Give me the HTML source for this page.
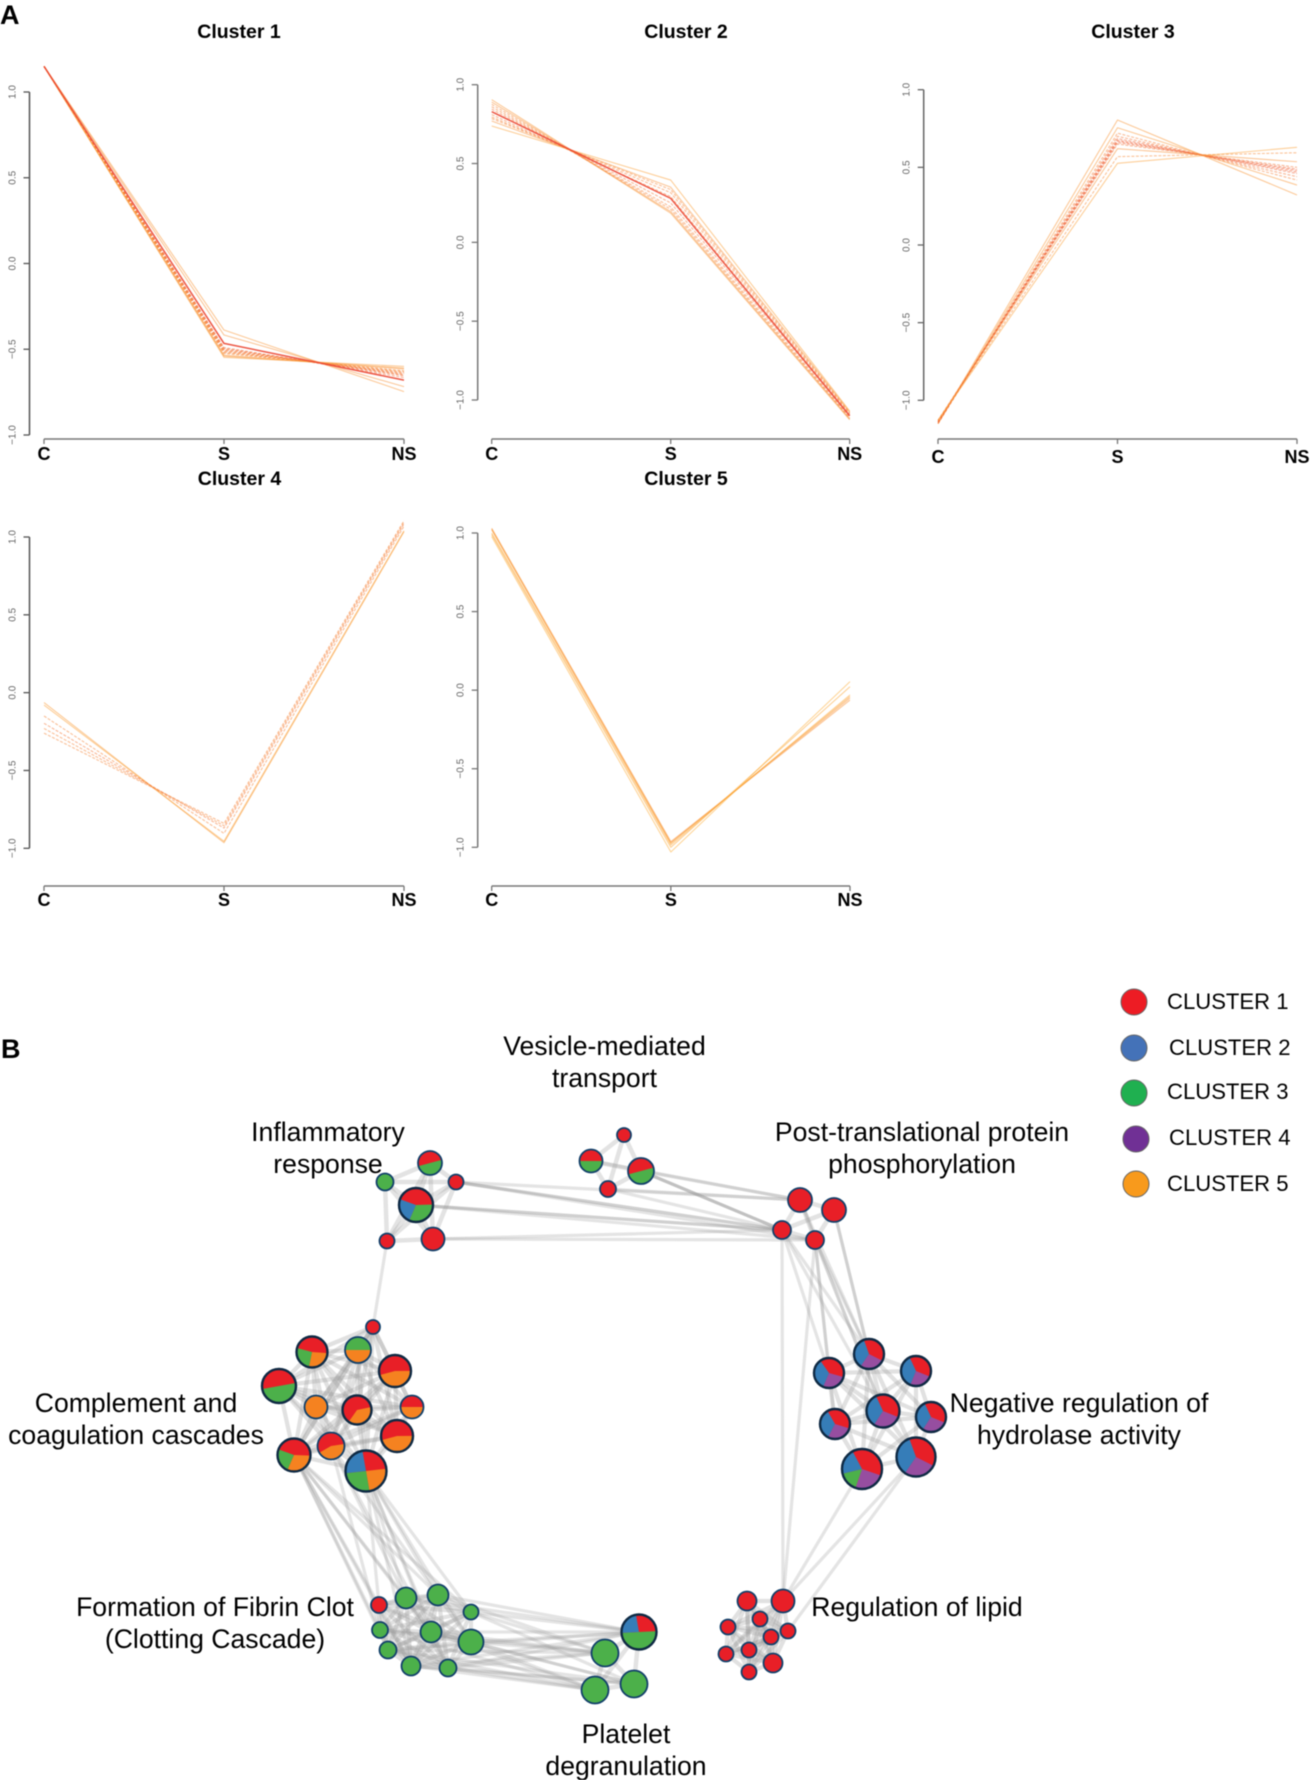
<!DOCTYPE html>
<html lang="en">
<head>
<meta charset="utf-8">
<title>Cluster profiles and enrichment network</title>
<style>
html,body{margin:0;padding:0;background:#fff;}
body{width:1311px;height:1780px;overflow:hidden;}
svg{display:block;filter:blur(0.5px);}
text{font-family:"Liberation Sans",sans-serif;}
.panel-letter{font-size:27px;font-weight:700;fill:#000;}
.chart-title{font-size:19.5px;font-weight:700;fill:#000;text-anchor:middle;}
.net-label{font-size:26.6px;fill:#000;text-anchor:middle;}
.legend-label{font-size:22.1px;fill:#000;}
</style>
</head>
<body>
<svg id="figure" xmlns="http://www.w3.org/2000/svg" width="1311" height="1780" viewBox="0 0 1311 1780">
  <rect width="1311" height="1780" fill="#fff"/>
  <text class="panel-letter" x="0" y="24">A</text>
  <text class="panel-letter" x="1" y="1058">B</text>

  <text class="chart-title" x="239" y="38">Cluster 1</text>
  <text class="chart-title" x="686" y="38">Cluster 2</text>
  <text class="chart-title" x="1133" y="38">Cluster 3</text>
  <text class="chart-title" x="239.5" y="485">Cluster 4</text>
  <text class="chart-title" x="686" y="485">Cluster 5</text>

  <g id="charts"></g>
  <g id="network-edges"></g>
  <g id="network-nodes"></g>

  <text class="net-label"><tspan x="604.5" y="1055">Vesicle-mediated</tspan><tspan x="604.5" y="1087">transport</tspan></text>
  <text class="net-label"><tspan x="328" y="1141">Inflammatory</tspan><tspan x="328" y="1173">response</tspan></text>
  <text class="net-label"><tspan x="922" y="1141">Post-translational protein</tspan><tspan x="922" y="1173">phosphorylation</tspan></text>
  <text class="net-label"><tspan x="136" y="1412">Complement and</tspan><tspan x="136" y="1444">coagulation cascades</tspan></text>
  <text class="net-label"><tspan x="1079" y="1412">Negative regulation of</tspan><tspan x="1079" y="1444">hydrolase activity</tspan></text>
  <text class="net-label"><tspan x="215" y="1616">Formation of Fibrin Clot</tspan><tspan x="215" y="1648">(Clotting Cascade)</tspan></text>
  <text class="net-label" x="917" y="1616">Regulation of lipid</text>
  <text class="net-label"><tspan x="626" y="1743">Platelet</tspan><tspan x="626" y="1775">degranulation</tspan></text>

  <g stroke="#666" stroke-width="1">
    <circle cx="1134" cy="1002" r="13" fill="#ed1c24"/>
    <circle cx="1134" cy="1048" r="13" fill="#4472b8"/>
    <circle cx="1134" cy="1093" r="13" fill="#1fb050"/>
    <circle cx="1136" cy="1139" r="13" fill="#703095"/>
    <circle cx="1136" cy="1184" r="13" fill="#f89a1c"/>
    <g stroke="none">
      <text class="legend-label" x="1167" y="1009">CLUSTER 1</text>
      <text class="legend-label" x="1169" y="1055">CLUSTER 2</text>
      <text class="legend-label" x="1167" y="1099">CLUSTER 3</text>
      <text class="legend-label" x="1169" y="1145">CLUSTER 4</text>
      <text class="legend-label" x="1167" y="1191">CLUSTER 5</text>
    </g>
  </g>
</svg>

<script>
var categories = ['C', 'S', 'NS'];
var yTicks = [-1, -0.5, 0, 0.5, 1];
var yTickLabels = ['\u22121.0', '\u22120.5', '0.0', '0.5', '1.0'];

var cluster1C = [1.15, 1.15, 1.15, 1.15, 1.15, 1.15, 1.15, 1.15, 1.15, 1.15, 1.15, 1.15, 1.15, 1.15];
var cluster1S = [-0.388, -0.417, -0.49, -0.495, -0.5, -0.505, -0.51, -0.515, -0.52, -0.525, -0.535, -0.54, -0.547, -0.466];
var cluster1NS = [-0.747, -0.718, -0.665, -0.655, -0.65, -0.645, -0.64, -0.635, -0.63, -0.625, -0.615, -0.61, -0.6, -0.68];
var cluster1Membership = [0.3, 0.35, 0.7, 0.65, 0.6, 0.6, 0.55, 0.5, 0.45, 0.4, 0.35, 0.3, 0.25, 1];

var cluster2C = [0.905, 0.89, 0.875, 0.86, 0.845, 0.81, 0.795, 0.785, 0.77, 0.738, 0.829];
var cluster2S = [0.185, 0.195, 0.21, 0.225, 0.25, 0.29, 0.315, 0.335, 0.35, 0.395, 0.279];
var cluster2NS = [-1.125, -1.12, -1.115, -1.11, -1.1, -1.09, -1.085, -1.08, -1.075, -1.07, -1.1];
var cluster2Membership = [0.3, 0.35, 0.45, 0.5, 0.6, 0.55, 0.5, 0.45, 0.35, 0.2, 1];

var cluster3C = [-1.15, -1.15, -1.15, -1.15, -1.14, -1.14, -1.14, -1.14, -1.13, -1.13, -1.13, -1.13];
var cluster3S = [0.805, 0.755, 0.72, 0.7, 0.685, 0.675, 0.668, 0.66, 0.65, 0.62, 0.569, 0.526];
var cluster3NS = [0.322, 0.386, 0.418, 0.44, 0.46, 0.47, 0.48, 0.488, 0.5, 0.536, 0.594, 0.629];
var cluster3Membership = [0.3, 0.3, 0.5, 0.6, 0.75, 0.8, 0.8, 0.75, 0.6, 0.35, 0.4, 0.2];

var cluster4C = [-0.064, -0.08, -0.15, -0.197, -0.23, -0.26];
var cluster4S = [-0.964, -0.955, -0.904, -0.87, -0.855, -0.84];
var cluster4NS = [1.034, 1.04, 1.07, 1.085, 1.095, 1.105];
var cluster4Membership = [0.25, 0.2, 0.45, 0.6, 0.45, 0.45];

var cluster5C = [1.03, 1.025, 1.02, 1.0, 0.99, 0.977];
var cluster5S = [-0.964, -0.97, -0.975, -0.985, -1.0, -1.03];
var cluster5NS = [-0.063, -0.05, -0.04, -0.03, 0.022, 0.054];
var cluster5Membership = [0.35, 0.3, 0.2, 0.15, 0.15, 0.1];

var clusterColors = ['#e81f27', '#367db8', '#4cb04a', '#964ea0', '#f58220'];

/* Network nodes: id, x, y, radius, start angle of the pie, then slices of [cluster index, fraction] */
var networkNodes = [
  ['i0', 430, 1163, 12, 165, [[0, 0.5], [2, 0.5]]],
  ['i1', 385, 1182, 8.5, 0, [[2, 1]]],
  ['i2', 456, 1182, 7.5, 0, [[0, 1]]],
  ['i3', 416, 1205, 17, -160, [[0, 0.44], [2, 0.32], [1, 0.24]]],
  ['i4', 387, 1241, 7.5, 0, [[0, 1]]],
  ['i5', 433, 1239, 11.5, 0, [[0, 1]]],
  ['v0', 624, 1135, 7, 0, [[0, 1]]],
  ['v1', 591, 1161, 11.5, 180, [[0, 0.5], [2, 0.5]]],
  ['v2', 641, 1171, 13, 165, [[0, 0.5], [2, 0.5]]],
  ['v3', 608, 1189, 8, 0, [[0, 1]]],
  ['p0', 800, 1200, 12, 0, [[0, 1]]],
  ['p1', 834, 1210, 12, 0, [[0, 1]]],
  ['p2', 782, 1230, 9, 0, [[0, 1]]],
  ['p3', 815, 1240, 9, 0, [[0, 1]]],
  ['c0', 373, 1327, 7, 0, [[0, 1]]],
  ['c1', 312, 1352, 15.5, -165, [[0, 0.47], [4, 0.27], [2, 0.26]]],
  ['c2', 358, 1350, 13, 180, [[2, 0.5], [4, 0.5]]],
  ['c3', 395, 1371, 16, 165, [[0, 0.54], [4, 0.46]]],
  ['c4', 279, 1386, 17, 170, [[0, 0.5], [2, 0.5]]],
  ['c5', 316, 1407, 11.5, 0, [[4, 1]]],
  ['c6', 357, 1410, 14.5, 125, [[0, 0.62], [4, 0.38]]],
  ['c7', 412, 1407, 11.5, 180, [[0, 0.5], [4, 0.5]]],
  ['c8', 397, 1436, 16, 165, [[0, 0.54], [4, 0.46]]],
  ['c9', 294, 1455, 16.5, -160, [[0, 0.45], [4, 0.31], [2, 0.24]]],
  ['c10', 331, 1446, 13.5, 150, [[0, 0.56], [4, 0.44]]],
  ['c11', 366, 1471, 20.5, -100, [[0, 0.26], [4, 0.24], [2, 0.26], [1, 0.24]]],
  ['h0', 869, 1354, 15, -110, [[0, 0.38], [3, 0.27], [1, 0.35]]],
  ['h1', 829, 1373, 15, -125, [[0, 0.39], [3, 0.27], [1, 0.34]]],
  ['h2', 916, 1371, 15, -115, [[0, 0.38], [3, 0.25], [1, 0.37]]],
  ['h3', 835, 1424, 15, -120, [[0, 0.38], [3, 0.28], [1, 0.34]]],
  ['h4', 883, 1411, 16.5, -115, [[0, 0.38], [3, 0.28], [1, 0.34]]],
  ['h5', 931, 1417, 15, -115, [[0, 0.38], [3, 0.28], [1, 0.34]]],
  ['h6', 862, 1469, 20, -118, [[0, 0.38], [3, 0.25], [2, 0.16], [1, 0.21]]],
  ['h7', 916, 1457, 19.5, -110, [[0, 0.38], [3, 0.27], [1, 0.35]]],
  ['f0', 379, 1605, 8, 0, [[0, 1]]],
  ['f1', 406, 1598, 10.5, 0, [[2, 1]]],
  ['f2', 438, 1595, 10.5, 0, [[2, 1]]],
  ['f3', 471, 1612, 7.5, 0, [[2, 1]]],
  ['f4', 380, 1630, 8, 0, [[2, 1]]],
  ['f5', 431, 1632, 10.5, 0, [[2, 1]]],
  ['f6', 471, 1642, 12.5, 0, [[2, 1]]],
  ['f7', 388, 1650, 8.5, 0, [[2, 1]]],
  ['f8', 411, 1666, 9.5, 0, [[2, 1]]],
  ['f9', 448, 1668, 8.5, 0, [[2, 1]]],
  ['g0', 639, 1632, 17.5, -100, [[0, 0.27], [2, 0.5], [1, 0.23]]],
  ['g1', 605, 1653, 13.5, 0, [[2, 1]]],
  ['g2', 634, 1684, 13.5, 0, [[2, 1]]],
  ['g3', 595, 1690, 13.5, 0, [[2, 1]]],
  ['l0', 747, 1601, 9.5, 0, [[0, 1]]],
  ['l1', 783, 1601, 11.5, 0, [[0, 1]]],
  ['l2', 760, 1619, 7.5, 0, [[0, 1]]],
  ['l3', 728, 1627, 7.5, 0, [[0, 1]]],
  ['l4', 788, 1631, 7.5, 0, [[0, 1]]],
  ['l5', 771, 1637, 7.5, 0, [[0, 1]]],
  ['l6', 726, 1654, 7.5, 0, [[0, 1]]],
  ['l7', 749, 1650, 7.5, 0, [[0, 1]]],
  ['l8', 773, 1663, 9.5, 0, [[0, 1]]],
  ['l9', 749, 1672, 7.5, 0, [[0, 1]]]
];
var networkModules = [
  ['i0', 'i1', 'i2', 'i3', 'i4', 'i5'],
  ['v0', 'v1', 'v2', 'v3'],
  ['p0', 'p1', 'p2', 'p3'],
  ['c0', 'c1', 'c2', 'c3', 'c4', 'c5', 'c6', 'c7', 'c8', 'c9', 'c10', 'c11'],
  ['h0', 'h1', 'h2', 'h3', 'h4', 'h5', 'h6', 'h7'],
  ['f0', 'f1', 'f2', 'f3', 'f4', 'f5', 'f6', 'f7', 'f8', 'f9'],
  ['g0', 'g1', 'g2', 'g3'],
  ['l0', 'l1', 'l2', 'l3', 'l4', 'l5', 'l6', 'l7', 'l8', 'l9']
];
var networkLinks = [
  ['i4', 'c0'],
  ['i2', 'p2'], ['i2', 'p2'], ['i2', 'p0'], ['i2', 'p3'], ['i3', 'p2'], ['i3', 'p2'], ['i3', 'p3'], ['i5', 'p2'], ['i5', 'p3'],
  ['v2', 'p0'], ['v2', 'p2'], ['v2', 'p2'], ['v2', 'p2'], ['v3', 'p2'], ['v3', 'p0'], ['v1', 'p0'],
  ['p1', 'h0'], ['p1', 'h0'], ['p2', 'h1'], ['p2', 'h0'], ['p2', 'h4'], ['p3', 'h0'], ['p3', 'h1'], ['p3', 'h3'], ['p0', 'h0'], ['p0', 'h4'], ['p3', 'h4'],
  ['p2', 'l1'], ['p3', 'l1'],
  ['h6', 'l1'], ['h7', 'l4'], ['h7', 'l1'],
  ['c9', 'f0'], ['c9', 'f1'], ['c9', 'f2'], ['c9', 'f5'], ['c9', 'f4'], ['c9', 'f7'], ['c9', 'f8'], ['c9', 'f3'],
  ['c11', 'f1'], ['c11', 'f2'], ['c11', 'f3'], ['c11', 'f5'], ['c11', 'f6'], ['c11', 'f8'], ['c11', 'f0'], ['c11', 'f9'],
  ['c10', 'f1'], ['c10', 'f5'], ['c10', 'f2'], ['c10', 'f4'],
  ['f1', 'g0'], ['f2', 'g0'], ['f3', 'g0'], ['f5', 'g0'], ['f6', 'g0'], ['f7', 'g0'], ['f8', 'g0'], ['f9', 'g0'],
  ['f2', 'g1'], ['f3', 'g1'], ['f5', 'g1'], ['f6', 'g1'], ['f7', 'g1'], ['f8', 'g1'], ['f9', 'g1'], ['f4', 'g1'],
  ['f5', 'g2'], ['f6', 'g2'], ['f8', 'g2'], ['f9', 'g2'], ['f3', 'g2'], ['f7', 'g2'],
  ['f5', 'g3'], ['f6', 'g3'], ['f8', 'g3'], ['f9', 'g3'], ['f7', 'g3'], ['f4', 'g3']
];

var SVG_NS = 'http://www.w3.org/2000/svg';

function make(tag, parent, attrs) {
  var el = document.createElementNS(SVG_NS, tag);
  for (var k in attrs) { el.setAttribute(k, attrs[k]); }
  parent.appendChild(el);
  return el;
}

function lineColor(m) {
  var r = Math.round(255 + (235 - 255) * m);
  var g = Math.round(185 + (70 - 185) * m);
  var b = Math.round(60 + (50 - 60) * m);
  return 'rgb(' + r + ',' + g + ',' + b + ')';
}

function drawChart(name, frame, cValues, sValues, nsValues, membership) {
  var g = make('g', document.getElementById('charts'), {});
  
  

  function xScale(i) { return frame.xC + (frame.xNS - frame.xC) * i / (categories.length - 1); }
  function yScale(v) { return frame.yBottom + (v + 1) / 2 * (frame.yTop - frame.yBottom); }

  var yAxis = make('line', g, { x1: frame.axisX, x2: frame.axisX, y1: yScale(1), y2: yScale(-1), stroke: frame.axisColor, 'stroke-width': 1.5 });
  
  

  yTicks.forEach(function (t, i) {
    var y = yScale(t);
    var tick = make('line', g, { x1: frame.axisX - 6, x2: frame.axisX, y1: y, y2: y, stroke: frame.axisColor, 'stroke-width': 1.3 });
    
    
    var lx = frame.axisX - 14;
    var label = make('text', g, { x: lx, y: y, 'font-size': 10, fill: '#666', 'text-anchor': 'middle', transform: 'rotate(-90 ' + lx + ' ' + y + ')' });
    label.textContent = yTickLabels[i];
    
    
  });

  var xAxis = make('line', g, { x1: xScale(0), x2: xScale(2), y1: frame.axisY, y2: frame.axisY, stroke: '#777', 'stroke-width': 1.5 });
  
  

  categories.forEach(function (c, i) {
    var x = xScale(i);
    var tick = make('line', g, { x1: x, x2: x, y1: frame.axisY, y2: frame.axisY + 5, stroke: '#777', 'stroke-width': 1.3 });
    
    
    var label = make('text', g, { x: x, y: frame.labelY, 'font-size': 18, 'font-weight': 700, fill: '#000', 'text-anchor': 'middle' });
    label.textContent = c;
    
    
  });

  cValues.forEach(function (c, i) {
    var m = membership[i];
    var pts = [c, sValues[i], nsValues[i]].map(function (v, j) { return xScale(j).toFixed(2) + ',' + yScale(v).toFixed(2); }).join(' ');
    var attrs = { points: pts, fill: 'none', stroke: lineColor(m), 'stroke-width': m === 1 ? 1.5 : 1.1, 'stroke-opacity': m === 1 ? 0.9 : 0.52, 'stroke-linejoin': 'round' };
    if (m >= 0.4 && m < 1) { attrs['stroke-dasharray'] = '3 1.5'; }
    var line = make('polyline', g, attrs);
    
    
  });
}

drawChart('cluster-1-chart', { xC: 44, xNS: 404, axisX: 29.5, axisY: 439, yTop: 92, yBottom: 435, labelY: 460, axisColor: '#555' }, cluster1C, cluster1S, cluster1NS, cluster1Membership);
drawChart('cluster-2-chart', { xC: 491.7, xNS: 849.7, axisX: 477.7, axisY: 439, yTop: 84.7, yBottom: 400, labelY: 460, axisColor: '#777' }, cluster2C, cluster2S, cluster2NS, cluster2Membership);
drawChart('cluster-3-chart', { xC: 938, xNS: 1297, axisX: 923.7, axisY: 439, yTop: 89.7, yBottom: 400.3, labelY: 463, axisColor: '#666' }, cluster3C, cluster3S, cluster3NS, cluster3Membership);
drawChart('cluster-4-chart', { xC: 44, xNS: 404, axisX: 29.5, axisY: 886, yTop: 537, yBottom: 848.3, labelY: 906, axisColor: '#555' }, cluster4C, cluster4S, cluster4NS, cluster4Membership);
drawChart('cluster-5-chart', { xC: 491.7, xNS: 850, axisX: 477.7, axisY: 886, yTop: 533, yBottom: 847.3, labelY: 906, axisColor: '#777' }, cluster5C, cluster5S, cluster5NS, cluster5Membership);

var nodeIndex = {};
networkNodes.forEach(function (n) { nodeIndex[n[0]] = n; });

var edgeLayer = document.getElementById('network-edges');

function drawEdge(a, b, width, opacity) {
  var na = nodeIndex[a];
  var nb = nodeIndex[b];
  var edge = make('line', edgeLayer, { x1: na[1], y1: na[2], x2: nb[1], y2: nb[2], stroke: '#9a9a9a', 'stroke-width': width, 'stroke-opacity': opacity, 'stroke-linecap': 'round' });
  
  
}

networkModules.forEach(function (ids) {
  var dense = ids.length > 6;
  for (var i = 0; i < ids.length; i++) {
    for (var j = i + 1; j < ids.length; j++) {
      drawEdge(ids[i], ids[j], dense ? 4.2 : 4.5, dense ? 0.3 : 0.28);
    }
  }
});
networkLinks.forEach(function (pair) { drawEdge(pair[0], pair[1], 3.2, 0.27); });

var nodeLayer = document.getElementById('network-nodes');

networkNodes.forEach(function (n) {
  var g = make('g', nodeLayer, {});
  
  
  var cx = n[1], cy = n[2], r = n[3], slices = n[5];
  make('circle', g, { cx: cx, cy: cy, r: r, fill: clusterColors[slices[0][0]] });
  if (slices.length > 1) {
    var angle = n[4];
    slices.forEach(function (s) {
      var a0 = angle * Math.PI / 180;
      angle += s[1] * 360;
      var a1 = angle * Math.PI / 180;
      var large = s[1] > 0.5 ? 1 : 0;
      var d = 'M' + cx + ' ' + cy + 'L' + (cx + r * Math.cos(a0)).toFixed(2) + ' ' + (cy + r * Math.sin(a0)).toFixed(2) + 'A' + r + ' ' + r + ' 0 ' + large + ' 1 ' + (cx + r * Math.cos(a1)).toFixed(2) + ' ' + (cy + r * Math.sin(a1)).toFixed(2) + 'Z';
      var slice = make('path', g, { d: d, fill: clusterColors[s[0]] });
      
      
    });
  }
  make('circle', g, { cx: cx, cy: cy, r: r, fill: 'none', stroke: r > 14 ? '#0f2a44' : '#12406a', 'stroke-width': r > 14 ? 2.4 : 1.8 });
});
</script>
</body>
</html>
